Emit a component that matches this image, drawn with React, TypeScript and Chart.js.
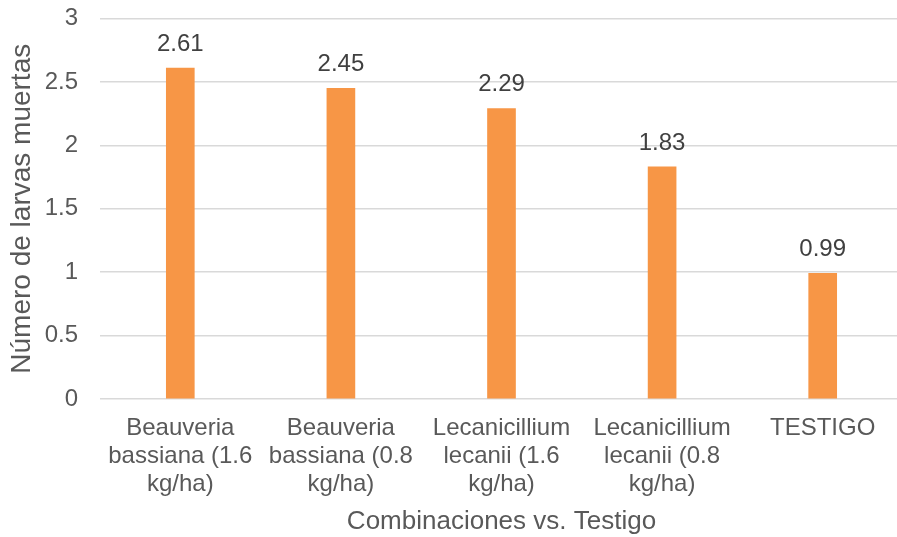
import React, { useEffect, useRef } from "react";
import { Chart, registerables } from "chart.js";

Chart.register(...registerables);

const categories: string[][] = [
  ["Beauveria", "bassiana (1.6", "kg/ha)"],
  ["Beauveria", "bassiana (0.8", "kg/ha)"],
  ["Lecanicillium", "lecanii (1.6", "kg/ha)"],
  ["Lecanicillium", "lecanii (0.8", "kg/ha)"],
  ["TESTIGO"],
];
const larvasMuertas: number[] = [2.61, 2.45, 2.29, 1.83, 0.99];
const yTicks: number[] = [0, 0.5, 1, 1.5, 2, 2.5, 3];

const FONT = "'Liberation Sans', Arial, sans-serif";
const TEXT = "#595959";

// Writes each bar's value above it
const valueLabels = {
  id: "valueLabels",
  afterDatasetsDraw(chart: any) {
    const { ctx } = chart;
    const meta = chart.getDatasetMeta(0);
    ctx.save();
    ctx.font = `24px ${FONT}`;
    ctx.fillStyle = "#404040";
    ctx.textAlign = "center";
    ctx.textBaseline = "middle";
    meta.data.forEach((bar: any, i: number) => {
      ctx.fillText(larvasMuertas[i].toFixed(2), bar.x, bar.y - 24);
    });
    ctx.restore();
  },
};

export default function App() {
  const canvasRef = useRef<HTMLCanvasElement | null>(null);

  useEffect(() => {
    if (!canvasRef.current) return;
    const chart = new Chart(canvasRef.current, {
      type: "bar",
      data: {
        labels: categories,
        datasets: [
          {
            data: larvasMuertas,
            backgroundColor: "#F79646",
            barThickness: 28,
          },
        ],
      },
      options: {
        animation: false,
        responsive: true,
        maintainAspectRatio: false,
        layout: { padding: { top: 18.5, right: 0, bottom: 0, left: 0 } },
        plugins: {
          legend: { display: false },
          tooltip: { enabled: false },
        },
        scales: {
          x: {
            grid: { display: false },
            border: { display: false },
            ticks: {
              color: TEXT,
              font: { family: FONT, size: 24, lineHeight: 1.17 },
              padding: 7,
              maxRotation: 0,
              autoSkip: false,
            },
            title: {
              display: true,
              text: "Combinaciones vs. Testigo",
              color: TEXT,
              font: { family: FONT, size: 26, lineHeight: 1.15 },
              padding: { top: 0, bottom: 0 },
            },
            afterFit: (scale: any) => {
              scale.height = 138;
              scale.paddingLeft = 0;
              scale.paddingRight = 0;
            },
          },
          y: {
            min: 0,
            max: 3,
            afterBuildTicks: (scale: any) => {
              scale.ticks = yTicks.map((v) => ({ value: v }));
            },
            grid: { color: "#D9D9D9", lineWidth: 1.5, drawTicks: false },
            border: { display: false },
            ticks: {
              color: TEXT,
              font: { family: FONT, size: 24 },
              padding: 22,
              callback: (v: any) => String(v),
            },
            title: {
              display: true,
              text: "Número de larvas muertas",
              color: TEXT,
              font: { family: FONT, size: 28 },
              padding: { top: 5, bottom: 4 },
            },
            afterFit: (scale: any) => {
              scale.width = 100;
              scale.paddingTop = 0;
              scale.paddingBottom = 0;
            },
          },
        },
      },
      plugins: [valueLabels],
    });
    return () => chart.destroy();
  }, []);

  return (
    <div
      style={{
        position: "fixed",
        left: 0,
        top: 0,
        width: 897,
        height: 537,
        overflow: "hidden",
        background: "#fff",
      }}
    >
      <div style={{ position: "absolute", left: 0, top: 0, width: 903, height: 537 }}>
        <canvas ref={canvasRef} />
      </div>
    </div>
  );
}
